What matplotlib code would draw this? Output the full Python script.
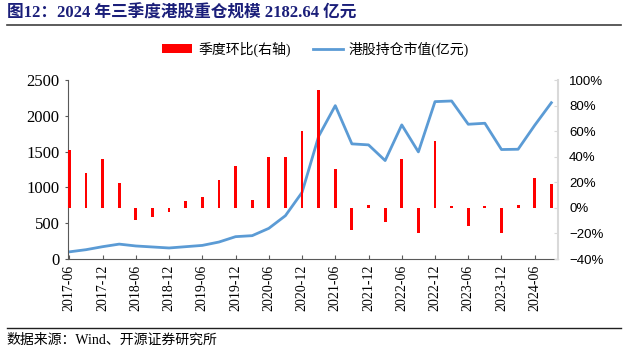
import matplotlib
matplotlib.use("Agg")
import matplotlib.pyplot as plt
from matplotlib.lines import Line2D
from matplotlib.patches import Patch
import numpy as np

plt.rcParams['font.family'] = ['Liberation Serif', 'Noto Sans CJK SC', 'DejaVu Sans']

# quarterly data, 2017-06 .. 2024-09
quarters = ['2017-06', '2017-09', '2017-12', '2018-03', '2018-06', '2018-09',
            '2018-12', '2019-03', '2019-06', '2019-09', '2019-12', '2020-03',
            '2020-06', '2020-09', '2020-12', '2021-03', '2021-06', '2021-09',
            '2021-12', '2022-03', '2022-06', '2022-09', '2022-12', '2023-03',
            '2023-06', '2023-09', '2023-12', '2024-03', '2024-06', '2024-09']

# 港股持仓市值(亿元)
holdings = [100, 130, 172, 208, 182, 168, 154, 172, 190, 237, 312, 326,
            428, 605, 930, 1715, 2142, 1608, 1594, 1375, 1873, 1496,
            2198, 2207, 1882, 1896, 1529, 1533, 1868, 2182.64]

# 季度环比(右轴), %
qoq = [45.5, 27.6, 38.5, 19.8, -9.4, -6.8, -3.4, 5.2, 8.8, 21.9, 32.5, 6.5,
       39.6, 39.6, 59.8, 92.4, 30.4, -17.4, 2.3, -10.7, 38.3, -19.5, 52.0,
       1.3, -14.3, 1.3, -19.3, 2.1, 23.7, 18.5]

left_ticks = [0, 500, 1000, 1500, 2000, 2500]
right_ticks = [-40, -20, 0, 20, 40, 60, 80, 100]

title_txt = '图12：2024 年三季度港股重仓规模 2182.64 亿元'
source_txt = '数据来源：Wind、开源证券研究所'

red = '#FF0000'
blue = '#5B9BD5'
dark = '#595959'
light = '#D9D9D9'

fig = plt.figure(figsize=(6.31, 3.52), dpi=100)
ax = fig.add_axes([0.1078, 0.2642, 0.7765, 0.5085])
ax2 = ax.twinx()

x = np.arange(len(quarters))
ax.plot(x, holdings, color=blue, lw=2.0, solid_joinstyle='round', zorder=2)
ax2.bar(x, qoq, width=0.17, color=red, zorder=3)

ax.set_xlim(-0.08, 29.4)
ax.set_ylim(0, 2500)
ax.set_yticks(left_ticks)
ax.set_yticklabels([str(v) for v in left_ticks], fontsize=12)
ax2.set_ylim(-40, 100)
ax2.set_yticks(right_ticks)
ax2.set_yticklabels([f'{v}%'.replace('-', '\u2212') for v in right_ticks],
                    fontsize=9.5, family='Liberation Sans')

ax.set_xticks(x[::2])
ax.set_xticklabels(quarters[::2], rotation=90, fontsize=10)

for a in (ax, ax2):
    a.spines['top'].set_visible(False)
ax.spines['left'].set_color(dark)
ax.spines['bottom'].set_color(dark)
ax.spines['right'].set_visible(False)
ax2.spines['left'].set_visible(False)
ax2.spines['bottom'].set_visible(False)
ax2.spines['right'].set_color(light)
ax2.spines['right'].set_linewidth(1.5)

ax.tick_params(axis='y', direction='out', length=2, color=dark, pad=4)
ax.tick_params(axis='x', direction='in', length=3, color=dark, pad=4)
ax2.tick_params(axis='y', direction='in', length=3, color=light, pad=8)

handles = [Patch(facecolor=red, edgecolor='none'),
           Line2D([0], [0], color=blue, lw=2.0)]
fig.legend(handles, ['季度环比(右轴)', '港股持仓市值(亿元)'], loc='center',
           bbox_to_anchor=(0.5, 0.861), ncol=2, frameon=False, fontsize=10,
           handlelength=2.2, handleheight=0.55, handletextpad=0.4,
           columnspacing=1.6)

fig.text(0.011, 0.962, title_txt, fontsize=12, fontweight='bold',
         color='#1B1F7A', va='center', ha='left')
fig.add_artist(Line2D([0.011, 0.984], [0.929, 0.929], color='#404040', lw=1.2))
fig.add_artist(Line2D([0.011, 0.984], [0.068, 0.068], color='#202020', lw=1.0))
fig.text(0.011, 0.034, source_txt, fontsize=10, va='center', ha='left')

fig.savefig('out.png', dpi=100)
